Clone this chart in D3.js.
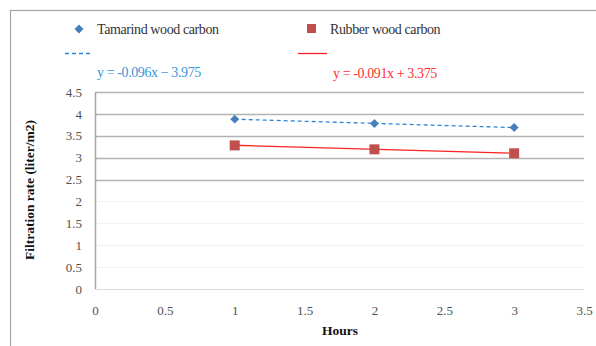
<!DOCTYPE html>
<html>
<head>
<meta charset="utf-8">
<script src="https://cdn.jsdelivr.net/npm/d3@7"></script>
<style>
  html, body { margin: 0; padding: 0; background: #fff; }
  svg { display: block; }
  svg text { font-family: "Liberation Serif", "DejaVu Serif", "Times New Roman", serif !important; }
</style>
</head>
<body>
<svg id="chart" width="596" height="346"></svg>
<script>
// Filtration rate over time for two activated carbons
const hours = [1, 2, 3];
const tamarind = [3.88, 3.78, 3.69];
const rubber = [3.28, 3.19, 3.10];
const tamarindFit = { slope: -0.096, intercept: 3.975, label: "y = -0.096x − 3.975" };
const rubberFit = { slope: -0.091, intercept: 3.375, label: "y = -0.091x + 3.375" };
const xTicks = [0, 0.5, 1, 1.5, 2, 2.5, 3, 3.5];
const yTicks = [0, 0.5, 1, 1.5, 2, 2.5, 3, 3.5, 4, 4.5];
const seriesNames = ["Tamarind wood carbon", "Rubber wood carbon"];

const FONT = "'Liberation Serif', 'DejaVu Serif', serif";
const svg = d3.select("#chart");
const plot = { left: 95, right: 584, top: 92, bottom: 289 };

const x = d3.scaleLinear().domain([0, 3.5]).range([plot.left, plot.right]);
const y = d3.scaleLinear().domain([0, 4.5]).range([plot.bottom, plot.top]);

// outer chart frame
svg.append("rect")
  .attr("x", 10.5).attr("y", 10.5)
  .attr("width", 600).attr("height", 360)
  .attr("fill", "none").attr("stroke", "#a6a6a6").attr("stroke-width", 1.2);

// horizontal gridlines: upper ones strong, lower ones faint
svg.append("g").selectAll("line")
  .data(yTicks.filter(t => t > 0))
  .join("line")
  .attr("x1", plot.left).attr("x2", plot.right)
  .attr("y1", d => Math.round(y(d)) + 0.5).attr("y2", d => Math.round(y(d)) + 0.5)
  .attr("stroke", d => d >= 2.5 ? "#b3b3b3" : "#f2f2f2")
  .attr("stroke-width", d => d >= 2.5 ? 1.5 : 1);

// x axis baseline
svg.append("line")
  .attr("x1", plot.left).attr("x2", plot.right)
  .attr("y1", Math.round(y(0)) + 0.5).attr("y2", Math.round(y(0)) + 0.5)
  .attr("stroke", "#d9d9d9").attr("stroke-width", 1);

// y axis line
svg.append("line")
  .attr("x1", plot.left + 0.5).attr("x2", plot.left + 0.5)
  .attr("y1", plot.top).attr("y2", plot.bottom)
  .attr("stroke", "#a6a6a6").attr("stroke-width", 1.5);

// y tick labels
const yAxis = d3.axisLeft(y).tickValues(yTicks).tickSize(0).tickPadding(13)
  .tickFormat(d3.format(""));
const gy = svg.append("g").attr("transform", `translate(${plot.left},0)`).call(yAxis)
  .attr("font-family", FONT);
gy.select(".domain").remove();
gy.selectAll("text").attr("font-size", 13).attr("fill", "#505050");

// x tick labels
const xAxis = d3.axisBottom(x).tickValues(xTicks).tickSize(0).tickPadding(17)
  .tickFormat(d3.format(""));
const gx = svg.append("g").attr("transform", `translate(0,${plot.bottom})`).call(xAxis)
  .attr("font-family", FONT);
gx.select(".domain").remove();
gx.selectAll("text").attr("font-size", 13).attr("fill", "#505050");

// axis titles
svg.append("text")
  .attr("transform", `translate(34,190) rotate(-90)`)
  .attr("text-anchor", "middle").attr("font-family", FONT)
  .attr("font-size", 13.5).attr("font-weight", "bold").attr("fill", "#111")
  .text("Filtration rate (liter/m2)");
svg.append("text")
  .attr("x", 340).attr("y", 335)
  .attr("text-anchor", "middle").attr("font-family", FONT)
  .attr("font-size", 13.5).attr("font-weight", "bold").attr("fill", "#111")
  .text("Hours");

// linear trendlines across the measured range
const lineGen = d3.line().x(d => x(d[0])).y(d => y(d[1]));
const fitEnds = fit => [hours[0], hours[hours.length - 1]].map(h => [h, fit.slope * h + fit.intercept]);

svg.append("path")
  .datum(fitEnds(tamarindFit))
  .attr("d", lineGen)
  .attr("fill", "none").attr("stroke", "#2f86d6").attr("stroke-width", 1.3)
  .attr("stroke-dasharray", "4,3");

svg.append("path")
  .datum(fitEnds(rubberFit))
  .attr("d", lineGen)
  .attr("fill", "none").attr("stroke", "#ff2020").attr("stroke-width", 1.3);

// data markers
const diamond = d3.symbol().type(d3.symbolSquare).size(40);
svg.append("g").selectAll("path")
  .data(hours.map((h, i) => [h, tamarind[i]]))
  .join("path")
  .attr("d", diamond)
  .attr("transform", d => `translate(${x(d[0])},${y(d[1])}) rotate(45)`)
  .attr("fill", "#4a7ebb");

svg.append("g").selectAll("rect")
  .data(hours.map((h, i) => [h, rubber[i]]))
  .join("rect")
  .attr("x", d => x(d[0]) - 5).attr("y", d => y(d[1]) - 5)
  .attr("width", 10).attr("height", 10)
  .attr("fill", "#c0504d");

// legend
const legend = svg.append("g").attr("font-family", FONT).attr("font-size", 14);
legend.append("path").attr("d", diamond)
  .attr("transform", "translate(79,29) rotate(45)").attr("fill", "#4a7ebb");
legend.append("text").attr("x", 97).attr("y", 34)
  .attr("fill", "#333").attr("letter-spacing", -0.4)
  .text(seriesNames[0]);
legend.append("rect").attr("x", 307).attr("y", 24).attr("width", 9).attr("height", 9)
  .attr("fill", "#c0504d");
legend.append("text").attr("x", 330).attr("y", 34)
  .attr("fill", "#333").attr("letter-spacing", -0.4)
  .text(seriesNames[1]);

legend.append("line").attr("x1", 65).attr("x2", 92).attr("y1", 53.5).attr("y2", 53.5)
  .attr("stroke", "#2f86d6").attr("stroke-width", 1.3).attr("stroke-dasharray", "4,3");
legend.append("text").attr("x", 97).attr("y", 77)
  .attr("fill", "#3a94dc").attr("letter-spacing", -0.4)
  .text(tamarindFit.label);

legend.append("line").attr("x1", 298).attr("x2", 327).attr("y1", 53.5).attr("y2", 53.5)
  .attr("stroke", "#ff2020").attr("stroke-width", 1.3);
legend.append("text").attr("x", 333).attr("y", 78)
  .attr("fill", "#ff3030").attr("letter-spacing", -0.4)
  .text(rubberFit.label);
</script>
</body>
</html>
